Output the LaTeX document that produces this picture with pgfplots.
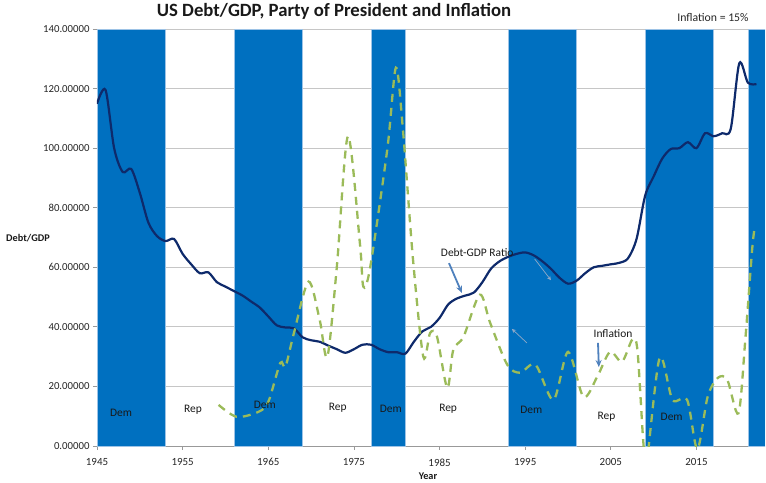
\documentclass[border=0pt]{standalone}
\usepackage{fontspec}
\setmainfont{Carlito}
\usepackage{pgfplots}
\pgfplotsset{compat=1.18}
\usetikzlibrary{arrows.meta}
\definecolor{band}{HTML}{0070C0}
\definecolor{bandedge}{HTML}{9DC3E6}
\definecolor{debt}{HTML}{0E2A6B}
\definecolor{infl}{HTML}{9BBB59}
\definecolor{arr}{HTML}{4F81BD}
\definecolor{thinarr}{HTML}{8EA9C8}
\tikzset{lbl/.style={font=\fontsize{11.5}{13}\selectfont, text=black!90}}
\begin{document}
\begin{tikzpicture}
\path[use as bounding box] (-97bp,-37bp) rectangle (669bp,446bp);
\begin{axis}[
  at={(0,0)}, anchor=south west, scale only axis,
  width=668bp, height=417bp,
  xmin=1945, xmax=2023, ymin=0, ymax=140,
  axis lines=left, axis line style={-, draw=gray!80, line width=0.8bp},
  xtick={1945,1955,...,2015}, ytick={0,20,...,140},
  tick style={gray!80, line width=0.8bp}, tick align=outside, major tick length=4bp,
  ymajorgrids, grid style={gray!45, line width=0.9bp},
  /pgf/number format/assume math mode=true,
  xticklabel style={/pgf/number format/1000 sep={}, font=\fontsize{11}{12}\selectfont, text=black!85, yshift=-5bp},
  yticklabel style={/pgf/number format/fixed, /pgf/number format/fixed zerofill, /pgf/number format/precision=5, font=\fontsize{10.8}{12}\selectfont, text=black!85},
]
% presidential party bands (Democratic)
\fill[band, draw=bandedge, line width=0.6bp] (axis cs:1945,0) rectangle (axis cs:1953,140);
\fill[band, draw=bandedge, line width=0.6bp] (axis cs:1961,0) rectangle (axis cs:1969,140);
\fill[band, draw=bandedge, line width=0.6bp] (axis cs:1977,0) rectangle (axis cs:1981,140);
\fill[band, draw=bandedge, line width=0.6bp] (axis cs:1993,0) rectangle (axis cs:2001,140);
\fill[band, draw=bandedge, line width=0.6bp] (axis cs:2009,0) rectangle (axis cs:2017,140);
\fill[band, draw=bandedge, line width=0.6bp] (axis cs:2021,0) rectangle (axis cs:2023,140);

% Debt/GDP
\addplot[debt, line width=2.2bp, smooth, no markers] coordinates {
(1945,114.9) (1946,119.5) (1947,100) (1948,92) (1949,93) (1950,85) (1951,75)
(1952,70.5) (1953,68.8) (1954,69.5) (1955,64.5) (1956,61) (1957,58) (1958,58.3)
(1959,55) (1960,53.5) (1961,52) (1962,50.5) (1963,48.5) (1964,46.5) (1965,43.5)
(1966,40.5) (1967,39.8) (1968,39.5) (1969,36.5) (1970,35.5) (1971,35) (1972,33.7)
(1973,32.5) (1974,31.3) (1975,32.5) (1976,34) (1977,34) (1978,32.5) (1979,31.5)
(1980,31.5) (1981,31) (1982,35) (1983,38.5) (1984,40) (1985,43) (1986,47.5)
(1987,49.5) (1988,50.5) (1989,51.5) (1990,55) (1991,59.5) (1992,62) (1993,63.5)
(1994,64.5) (1995,65) (1996,64) (1997,62) (1998,59.5) (1999,56.5) (2000,54.5)
(2001,55.5) (2002,58) (2003,60) (2004,60.5) (2005,61) (2006,61.5) (2007,63)
(2008,69.5) (2009,84) (2010,90.5) (2011,96.5) (2012,99.7) (2013,100) (2014,102)
(2015,100) (2016,105) (2017,104) (2018,105) (2019,106.5) (2020,128.5) (2021,122)
(2022,121.5)
};

% Inflation (scaled)
\addplot[infl, line width=2.3bp, smooth, no markers, dash pattern=on 8bp off 6bp] coordinates {
(1959.2,13.8) (1961.3,9.8) (1963.8,11.4) (1965,14.8) (1966.4,27.9) (1967,26.6)
(1968,38) (1969.7,55.2) (1971,42.4) (1971.9,30) (1973,60) (1974.3,104)
(1975.7,68) (1976.1,53.5) (1976.9,60) (1978.9,99.7) (1979.9,127) (1980.7,107)
(1981.9,62.6) (1983.1,30) (1983.9,38) (1984.7,36.7) (1985.9,19.5) (1986.6,32.3)
(1987.8,36.7) (1989.7,50.8) (1990.9,41.4) (1992.9,27.3) (1994.4,24.6) (1996.2,27.3)
(1998.3,15.5) (2000,31.6) (2001.8,16.5) (2003.4,23.2) (2004.9,31.6) (2006.3,28.3)
(2007.5,35.7) (2008.1,32.3) (2008.8,1) (2009.2,-5) (2010.7,29.6) (2012.2,15.5)
(2013.9,15.5) (2015.1,-1) (2016.3,16.5) (2017.5,22.9) (2018.6,22.2) (2019.9,11)
(2020.7,35.7) (2021.5,66) (2021.8,73.4)
};

% annotations
\node[lbl] at (axis cs:1989.4,64.8) {Debt-GDP Ratio};
\draw[arr, line width=1.8bp, -{Stealth[length=7bp,width=6bp]}] (axis cs:1986.1,61.4) -- (axis cs:1987.6,51.4);
\draw[thinarr, line width=0.7bp, -{Stealth[length=4bp,width=4bp]}] (axis cs:1996.1,62.8) -- (axis cs:1998.0,55.7);
\draw[thinarr, line width=0.7bp, -{Stealth[length=4bp,width=4bp]}] (axis cs:1995.2,34.6) -- (axis cs:1993.45,39.3);
\node[lbl] at (axis cs:2005.25,37.9) {Inflation};
\draw[arr, line width=1.8bp, -{Stealth[length=7bp,width=6bp]}] (axis cs:2003.5,34.6) -- (axis cs:2003.6,26.5);

\node[lbl] at (axis cs:1947.8,11.1) {Dem};
\node[lbl] at (axis cs:1956.2,12.1) {Rep};
\node[lbl] at (axis cs:1964.6,13.8) {Dem};
\node[lbl] at (axis cs:1973.1,12.8) {Rep};
\node[lbl] at (axis cs:1979.3,12.4) {Dem};
\node[lbl] at (axis cs:1986.0,12.4) {Rep};
\node[lbl] at (axis cs:1995.7,12.1) {Dem};
\node[lbl] at (axis cs:2004.5,9.7) {Rep};
\node[lbl] at (axis cs:2012.1,9.7) {Dem};
\end{axis}
\node[font=\bfseries\fontsize{18.8}{21}\selectfont, anchor=base, text=black!90] at (237bp,429bp) {US Debt/GDP, Party of President and Inflation};
\node[font=\fontsize{11.8}{13}\selectfont, anchor=base, text=black!85] at (616bp,424bp) {Inflation = 15\%};
\node[font=\bfseries\fontsize{10.3}{12}\selectfont, text=black!90] at (-69bp,208bp) {Debt/GDP};
\node[font=\bfseries\fontsize{10.3}{12}\selectfont, text=black!90] at (331bp,-30bp) {Year};
\end{tikzpicture}
\end{document}
